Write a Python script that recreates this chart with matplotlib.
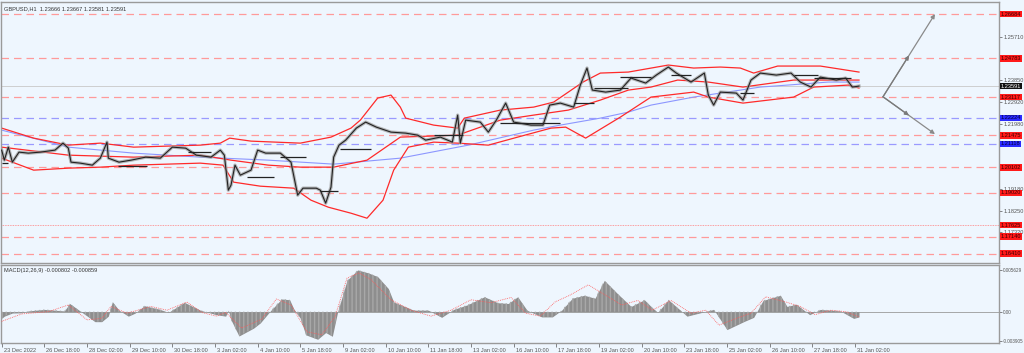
"""
GBPUSD H1 chart in MT4 style: price, Bollinger bands, MA, levels and MACD
"""
import numpy as np
import matplotlib
matplotlib.use("Agg")
from matplotlib import pyplot as plt
from matplotlib import font_manager
from matplotlib.transforms import ScaledTranslation

# ---- data (bar index = hours from 23 Dec 2022) ----
price_x = [0, 2, 5, 8, 13, 20, 29, 40, 46, 50, 52, 59, 68, 74, 79, 80, 88, 97, 108, 119,
           128, 138, 146, 157, 164, 167, 170, 172, 175, 179, 187, 192, 198, 209, 217, 222,
           226, 236, 239, 243, 247, 249, 253, 258, 266, 273, 281, 292, 303, 312, 318, 329,
           338, 342, 344, 348, 359, 365, 371, 378, 384, 397, 406, 411, 419, 429, 434, 439,
           443, 453, 464, 472, 483, 491, 500, 506, 517, 527, 530, 534, 539, 551, 556, 562,
           569, 581, 592, 599, 607, 614, 626, 633, 638, 643]
price_y = [1.20846, 1.20416, 1.20974, 1.20330, 1.20760, 1.20717, 1.20760, 1.20846, 1.21146,
           1.20931, 1.20330, 1.20288, 1.20202, 1.20502, 1.21189, 1.20502, 1.20330, 1.20416,
           1.20545, 1.20502, 1.20974, 1.20931, 1.20631, 1.20545, 1.20846, 1.20631, 1.19128,
           1.19343, 1.20202, 1.19772, 1.19987, 1.20846, 1.20717, 1.20717, 1.20330, 1.18914,
           1.19214, 1.19214, 1.19128, 1.18570, 1.19257, 1.20545, 1.21060, 1.21275, 1.21790,
           1.22048, 1.21833, 1.21618, 1.21575, 1.21489, 1.21275, 1.21404, 1.21189, 1.22348,
           1.21146, 1.22133, 1.22048, 1.21618, 1.22133, 1.22863, 1.22048, 1.21919, 1.21919,
           1.22777, 1.22863, 1.22691, 1.23636, 1.24366, 1.23421, 1.23335, 1.23421, 1.23937,
           1.23722, 1.24065, 1.24409, 1.24151, 1.23765, 1.24151, 1.23207, 1.22777, 1.23335,
           1.23292, 1.22992, 1.23851, 1.24151, 1.24065, 1.24151, 1.23765, 1.23550, 1.23979,
           1.23851, 1.23937, 1.23550, 1.23593]

upper_x = [0, 24, 50, 74, 99, 149, 164, 171, 187, 224, 247, 262, 269, 282, 292, 299, 303,
           324, 342, 347, 374, 399, 414, 436, 449, 470, 500, 519, 539, 554, 564, 582, 614, 643]
upper_y = [1.21790, 1.21361, 1.21060, 1.21146, 1.20974, 1.21060, 1.21146, 1.21361, 1.21232,
           1.21146, 1.21404, 1.21790, 1.22133, 1.23078, 1.23207, 1.22691, 1.22219, 1.21919,
           1.21790, 1.22219, 1.22563, 1.22691, 1.22906, 1.23765, 1.24151, 1.24194, 1.24495,
           1.24366, 1.24409, 1.24366, 1.24151, 1.24452, 1.24452, 1.24194]

lower_x = [0, 24, 50, 74, 99, 149, 166, 174, 194, 219, 232, 245, 262, 274, 286, 294, 305,
           324, 342, 365, 387, 412, 423, 438, 464, 487, 519, 530, 556, 594, 609, 635, 643]
lower_y = [1.20502, 1.19987, 1.20073, 1.20116, 1.20202, 1.20288, 1.20202, 1.19472, 1.19300,
           1.19214, 1.18699, 1.18398, 1.18141, 1.17926, 1.18699, 1.19987, 1.20974, 1.21189,
           1.21146, 1.21060, 1.21404, 1.21790, 1.21833, 1.21361, 1.22262, 1.23121, 1.23335,
           1.23121, 1.22863, 1.23121, 1.23550, 1.23636, 1.23507]

middle_x = [0, 50, 99, 149, 172, 200, 224, 249, 274, 299, 342, 374, 399, 425, 449, 470,
            487, 507, 530, 556, 594, 643]
middle_y = [1.20974, 1.20631, 1.20545, 1.20631, 1.20416, 1.20202, 1.20116, 1.20116, 1.20416,
            1.21404, 1.21489, 1.22133, 1.22348, 1.22563, 1.22992, 1.23421, 1.23550, 1.23851,
            1.23765, 1.23550, 1.23851, 1.23851]

ma_x = [0, 50, 99, 149, 200, 249, 299, 350, 399, 419, 449, 470, 487, 519, 569, 620, 643]
ma_y = [1.21704, 1.20974, 1.20717, 1.20545, 1.20416, 1.20245, 1.20502, 1.21060, 1.21704,
        1.21919, 1.22219, 1.22477, 1.22777, 1.23121, 1.23550, 1.23765, 1.23765]

# short black level segments (start bar, end bar, price)
seg_start = [0, 87, 140, 184, 209, 239, 254, 324, 374, 429, 444, 464, 502, 554, 594, 609]
seg_end = [5, 109, 157, 204, 228, 252, 277, 346, 419, 444, 470, 487, 517, 564, 612, 637]
seg_level = [1.20288, 1.20159, 1.20760, 1.19686, 1.20545, 1.19085, 1.20888, 1.21489,
             1.22005, 1.22863, 1.23507, 1.23979, 1.24065, 1.23292, 1.24065, 1.23937]

red_levels = [1.26684, 1.24783, 1.23117, 1.21475, 1.20102, 1.19020, 1.17140, 1.16410]
blue_levels = [1.22224, 1.21118]
dotted_levels = [1.17625]
last_price = 1.23591
price_ticks = [1.25710, 1.23850, 1.22920, 1.21980, 1.19180, 1.18250, 1.17320]

# projection arrows
proj_x = [661, 700]
proj_up = [1.23134, 1.26684]
proj_down = [1.23134, 1.21532]

macd_x = [0, 2, 8, 15, 20, 32, 47, 51, 58, 70, 75, 80, 83, 88, 95, 100, 107, 118, 125,
          137, 149, 161, 168, 170, 172, 178, 189, 194, 202, 210, 216, 219, 224, 228, 237,
          243, 248, 252, 259, 267, 275, 282, 290, 294, 309, 320, 330, 339, 349, 362, 372,
          380, 387, 394, 405, 413, 420, 428, 437, 445, 452, 462, 472, 482, 487, 492, 500,
          509, 514, 534, 544, 557, 564, 571, 584, 589, 596, 606, 614, 629, 639, 643]
macd_y = [-0.00089, -0.00060, -0.00018, -0.00015, 0.00010, 0.00030, 0.00010, 0.00110,
          0.00020, -0.00134, -0.00134, -0.00060, 0.00134, 0.00020, -0.00060, -0.00020,
          0.00080, 0.00035, -0.00010, 0.00125, 0.00020, -0.00040, -0.00060, 0.00020,
          -0.00110, -0.00326, -0.00220, -0.00150, 0.00020, 0.00170, 0.00160, 0.00040,
          -0.00089, -0.00310, -0.00370, -0.00280, -0.00330, 0.00000, 0.00420, 0.00560,
          0.00520, 0.00470, 0.00310, 0.00130, 0.00020, 0.00020, -0.00076, 0.00030, 0.00090,
          0.00200, 0.00120, 0.00110, 0.00200, 0.00020, -0.00070, -0.00070, 0.00020, 0.00180,
          0.00220, 0.00180, 0.00420, 0.00240, 0.00070, 0.00160, 0.00070, -0.00010, 0.00160,
          0.00020, -0.00060, 0.00030, -0.00240, -0.00130, -0.00076, 0.00150, 0.00220,
          0.00070, 0.00100, -0.00040, 0.00030, 0.00010, -0.00090, -0.00070]

signal_x = [0, 15, 35, 50, 64, 75, 82, 94, 112, 124, 139, 150, 161, 168, 180, 195, 206,
            217, 229, 240, 250, 259, 268, 277, 292, 307, 322, 337, 352, 367, 382, 393, 404,
            415, 426, 440, 465, 477, 488, 502, 517, 528, 538, 551, 562, 573, 588, 599, 610,
            622, 633, 643]
signal_y = [-0.00130, -0.00030, 0.00000, 0.00090, -0.00110, -0.00090, 0.00070, -0.00020,
            0.00070, 0.00020, 0.00130, -0.00010, -0.00060, -0.00010, -0.00220, -0.00100,
            0.00170, 0.00090, -0.00270, -0.00310, -0.00070, 0.00450, 0.00520, 0.00430,
            0.00160, 0.00020, -0.00060, 0.00020, 0.00160, 0.00120, 0.00190, -0.00020,
            -0.00060, 0.00130, 0.00220, 0.00360, 0.00090, 0.00150, 0.00020, 0.00150,
            -0.00020, 0.00020, -0.00180, -0.00090, -0.00020, 0.00200, 0.00130, 0.00070,
            -0.00040, 0.00020, 0.00000, -0.00070]
macd_ticks = [0.005629, 0.0, -0.003905]
macd_tick_labels = ["0.005629", "0.00", "-0.003905"]

time_labels = ["23 Dec 2022", "26 Dec 18:00", "28 Dec 02:00", "29 Dec 10:00", "30 Dec 18:00",
               "3 Jan 02:00", "4 Jan 10:00", "5 Jan 18:00", "9 Jan 02:00", "10 Jan 10:00",
               "11 Jan 18:00", "13 Jan 02:00", "16 Jan 10:00", "17 Jan 18:00", "19 Jan 02:00",
               "20 Jan 10:00", "23 Jan 18:00", "25 Jan 02:00", "26 Jan 10:00", "27 Jan 18:00",
               "31 Jan 02:00"]

# narrow font if available, otherwise plain Liberation Sans a bit smaller
installed = {f.name for f in font_manager.fontManager.ttflist}
if "Liberation Sans Narrow" in installed:
    plt.rcParams["font.family"] = ["Liberation Sans Narrow", "DejaVu Sans"]
    FS = 4.8
else:
    plt.rcParams["font.family"] = ["Liberation Sans", "DejaVu Sans"]
    FS = 4.1

BG = "#eef6fe"

fig = plt.figure(figsize=(10.24, 3.53), dpi=100, facecolor=BG)
ax = fig.add_axes([1 / 1024, 1 - 263 / 353, 998 / 1024, 261 / 353])
ax_m = fig.add_axes([1 / 1024, 10 / 353, 998 / 1024, 78 / 353], sharex=ax)

for a in (ax, ax_m):
    a.set_facecolor(BG)
    for s in a.spines.values():
        s.set_color("#9a9a9a")
        s.set_linewidth(1.0)
    a.yaxis.tick_right()
    a.tick_params(axis="y", length=2, width=0.5, colors="#555555", labelsize=FS, pad=1.0)

# horizontal levels
for lv in red_levels:
    ax.axhline(lv, color="#ff9a9a", lw=0.9, ls=(0, (6, 4)), zorder=1)
for lv in blue_levels:
    ax.axhline(lv, color="#9a9aff", lw=0.9, ls=(0, (6, 4)), zorder=1)
for lv in dotted_levels:
    ax.axhline(lv, color="#ff8080", lw=0.6, ls=(0, (1, 1)), zorder=1)
ax.axhline(last_price, color="#c8c8c8", lw=0.6, zorder=1)

# indicators
ax.plot(ma_x, ma_y, color="#8c96ff", lw=0.8, zorder=2)
ax.plot(upper_x, upper_y, color="#ff2a2a", lw=0.9, zorder=2)
ax.plot(lower_x, lower_y, color="#ff2a2a", lw=0.9, zorder=2)
ax.plot(middle_x, middle_y, color="#ff2a2a", lw=0.9, zorder=2)

# price
ax.plot(price_x, price_y, color="#9a9a9a", lw=2.4, alpha=0.7, zorder=3)
ax.plot(price_x, price_y, color="#222222", lw=0.8, zorder=4)
ax.hlines(seg_level, seg_start, seg_end, color="#222222", lw=0.9, zorder=4)

# projection arrows
for ends in (proj_up, proj_down):
    ax.annotate("", xy=(proj_x[1], ends[1]), xytext=(proj_x[0], ends[0]),
                arrowprops=dict(arrowstyle="-|>", color="#8a8a8a", lw=0.9,
                                mutation_scale=6, shrinkA=0, shrinkB=0), zorder=5)
    mid_x = (proj_x[0] + proj_x[1]) / 2
    mid_y = (ends[0] + ends[1]) / 2
    ax.annotate("", xy=(mid_x, mid_y), xytext=(proj_x[0], ends[0]),
                arrowprops=dict(arrowstyle="-|>", color="#7a7a7a", lw=0.9,
                                mutation_scale=6, shrinkA=0, shrinkB=0), zorder=5)

ax.set_ylim(1.16005, 1.27199)
ax.set_xlim(-0.5, 748)
ax.set_yticks(price_ticks)
ax.set_yticklabels([f"{v:.5f}" for v in price_ticks], ha="left")
ax.tick_params(axis="x", bottom=False, labelbottom=False)

# price labels on the right
ytr = ax.get_yaxis_transform()
box = dict(boxstyle="square,pad=0.12", ec="none")
for lv in red_levels + dotted_levels:
    ax.text(1.002, lv, f"{lv:.5f}", transform=ytr, fontsize=FS, color="#3a0000",
            va="center", ha="left", zorder=10, clip_on=False, bbox=dict(box, fc="#ff1a1a"))
for lv in blue_levels:
    ax.text(1.002, lv, f"{lv:.5f}", transform=ytr, fontsize=FS, color="#00003a",
            va="center", ha="left", zorder=10, clip_on=False, bbox=dict(box, fc="#2a2aff"))
ax.text(1.002, last_price, f"{last_price:.5f}", transform=ytr, fontsize=FS, color="white",
        va="center", ha="left", zorder=11, clip_on=False, bbox=dict(box, fc="#111111"))

ax.text(0.003, 0.985, "GBPUSD,H1  1.23666 1.23667 1.23581 1.23591", transform=ax.transAxes,
        fontsize=FS, color="#333333", va="top", ha="left")

# MACD panel
ax_m.fill_between(macd_x, 0, macd_y, color="#8e8e8e", lw=0, zorder=2)
ax_m.fill_between(macd_x, 0, macd_y, facecolor="none", edgecolor="#a8a8a8", hatch="||||",
                  lw=0, zorder=3)
ax_m.axhline(0, color="#9a9a9a", lw=0.6, zorder=1)
ax_m.plot(signal_x, signal_y, color="#ff5a5a", lw=0.6, ls=(0, (1, 1.2)), zorder=4)
ax_m.set_ylim(-0.0042, 0.00626)
ax_m.set_yticks(macd_ticks)
ax_m.set_yticklabels(macd_tick_labels, ha="left")
ax_m.tick_params(axis="y", labelsize=FS - 0.8, pad=0.5)
ax_m.text(0.003, 0.96, "MACD(12,26,9) -0.000802 -0.000859", transform=ax_m.transAxes,
          fontsize=FS, color="#333333", va="top", ha="left")

ax_m.set_xticks(np.arange(len(time_labels)) * 32)
ax_m.set_xticklabels(time_labels, ha="left")
ax_m.tick_params(axis="x", length=3, width=0.5, colors="#555555", labelsize=FS, pad=0.5)
offset = ScaledTranslation(1.5 / 72, 0, fig.dpi_scale_trans)
for lab in ax_m.get_xticklabels():
    lab.set_transform(lab.get_transform() + offset)

plt.savefig("out.png", dpi=100, facecolor=BG)
